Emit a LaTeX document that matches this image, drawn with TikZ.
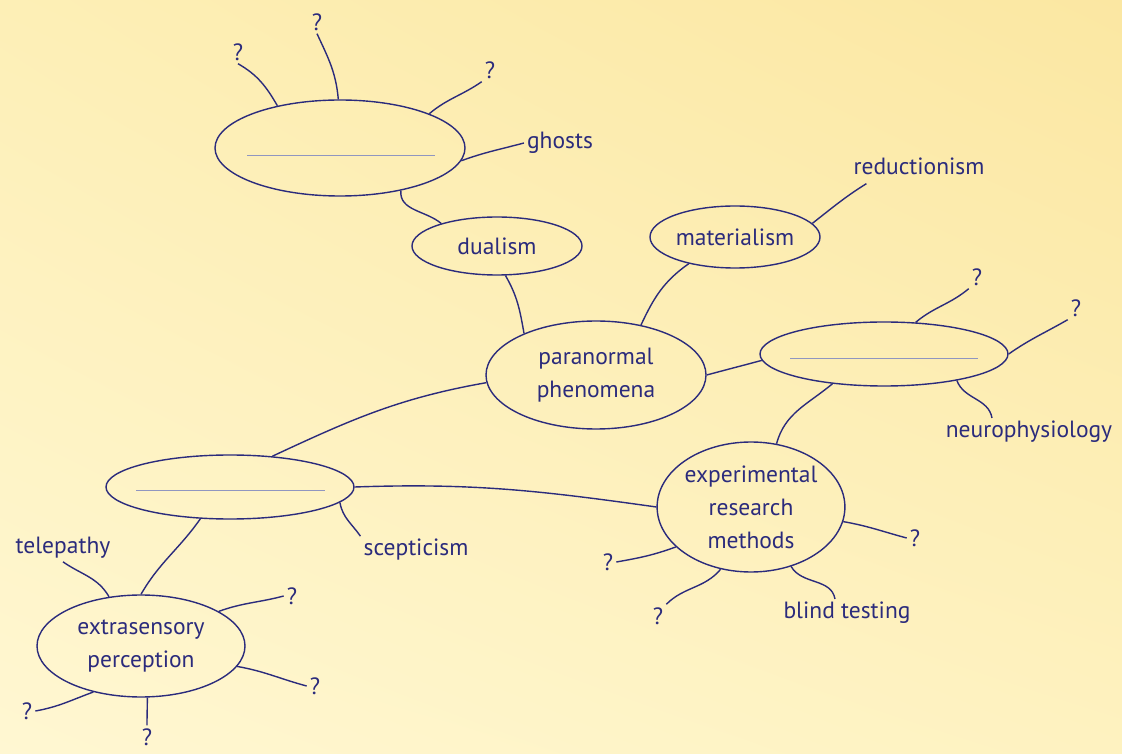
\documentclass[tikz,border=0pt]{standalone}
\usepackage{fontspec}
\setmainfont{PT Sans}
\usetikzlibrary{shapes.geometric,shadings}
\definecolor{ink}{HTML}{2B2B7C}
\definecolor{rule}{HTML}{9096C0}
\definecolor{bgtl}{HTML}{FDEFB6}
\definecolor{bgtr}{HTML}{FBE7A2}
\definecolor{bgbl}{HTML}{FFF7D2}
\definecolor{bgbr}{HTML}{FEF2C0}
\begin{document}
\begin{tikzpicture}[x=1pt,y=1pt]
\tikzstyle{every node}=[text=ink, font=\fontsize{23.5}{33}\selectfont, align=center]
\tikzstyle{blob}=[draw=ink, line width=1.4pt, ellipse, inner sep=0pt]
\tikzstyle{lbl}=[inner sep=3pt]
\tikzstyle{link}=[draw=ink, line width=1.4pt]
\shade[upper left=bgtl, upper right=bgtr, lower left=bgbl, lower right=bgbr] (0,0) rectangle (1122,753);
\node (b1) at (340,605) [blob, minimum width=250pt, minimum height=96pt] {};
\node (du) at (497,507) [blob, minimum width=170pt, minimum height=58pt] {dualism};
\node (ma) at (735,516) [blob, minimum width=170pt, minimum height=62pt] {materialism};
\node (pp) at (596,378) [blob, minimum width=220pt, minimum height=108pt] {paranormal\\phenomena};
\node (b2) at (884,399) [blob, minimum width=248pt, minimum height=64pt] {};
\node (b3) at (230,266) [blob, minimum width=248pt, minimum height=64pt] {};
\node (ex) at (751,246) [blob, minimum width=182pt, minimum height=130pt] {experimental\\research\\methods};
\node (es) at (141,107) [blob, minimum width=208pt, minimum height=102pt] {extrasensory\\perception};
\draw[rule, line width=1pt] ([shift={(-93,-8)}]b1.center) -- ++(188,0);
\draw[rule, line width=1pt] ([shift={(-94,-5)}]b2.center) -- ++(188,0);
\draw[rule, line width=1pt] ([shift={(-94,-4)}]b3.center) -- ++(189,0);
\node (gh) at (560,610) [lbl] {ghosts};
\node (re) at (919,587) [lbl] {reductionism};
\node (ne) at (1029,321) [lbl] {neurophysiology};
\node (sc) at (416,203) [lbl] {scepticism};
\node (te) at (63,205) [lbl] {telepathy};
\node (bt) at (847,140) [lbl] {blind testing};
\node (q1) at (238,701) [lbl] {?};
\node (q2) at (317,731) [lbl] {?};
\node (q3) at (490,683) [lbl] {?};
\node (q4) at (977,476) [lbl] {?};
\node (q5) at (1076,445) [lbl] {?};
\node (q6) at (915,215) [lbl] {?};
\node (q7) at (608,191) [lbl] {?};
\node (q8) at (658,137) [lbl] {?};
\node (q9) at (292,157) [lbl] {?};
\node (q10) at (315,67) [lbl] {?};
\node (q11) at (27,42) [lbl] {?};
\node (q12) at (147,16) [lbl] {?};
\draw[link] (b1.146) to[out=120,in=-30] (q1.south);
\draw[link] (b1.92) to[out=95,in=-65] (q2.south);
\draw[link] (b1.21) to[out=40,in=-145] (q3.south west);
\draw[link] (b1.-6) to[out=20,in=195] (gh.west);
\draw[link] (b1.-35) to[out=-95,in=140] (du.158);
\draw[link] (du.-74) to[out=-60,in=100] (pp.150);
\draw[link] (ma.-150) to[out=-145,in=65] (pp.48);
\draw[link] (ma.10) to[out=38,in=-148] ([shift={(16,-6)}]re.south west);
\draw[link] (pp.0) to[out=15,in=195] (b2.183);
\draw[link] (b2.45) to[out=40,in=-140] (q4.south west);
\draw[link] (b2.0) to[out=35,in=-150] (q5.south west);
\draw[link] (b2.-20) to[out=-70,in=100] ([xshift=-37pt]ne.north);
\draw[link] (b2.-150) to[out=-140,in=75] (ex.68);
\draw[link] (pp.184) to[out=190,in=25] (b3.36);
\draw[link] (b3.0) to[out=2,in=172] (ex.180);
\draw[link] (b3.-8) to[out=-80,in=125] (sc.north west);
\draw[link] (b3.-133) to[out=-125,in=60] (es.90);
\draw[link] (es.123) to[out=120,in=-35] (te.south);
\draw[link] (es.24) to[out=20,in=195] (q9.west);
\draw[link] (es.-12) to[out=-10,in=165] (q10.west);
\draw[link] (es.-136) to[out=-160,in=10] (q11.east);
\draw[link] (es.-83) to[out=-90,in=90] (q12.north);
\draw[link] (ex.-9) to[out=-10,in=165] (q6.west);
\draw[link] (ex.-152) to[out=-160,in=10] (q7.east);
\draw[link] (ex.-116) to[out=-130,in=45] (q8.north east);
\draw[link] (ex.-56) to[out=-60,in=100] ([xshift=-12pt]bt.north);
\end{tikzpicture}
\end{document}
